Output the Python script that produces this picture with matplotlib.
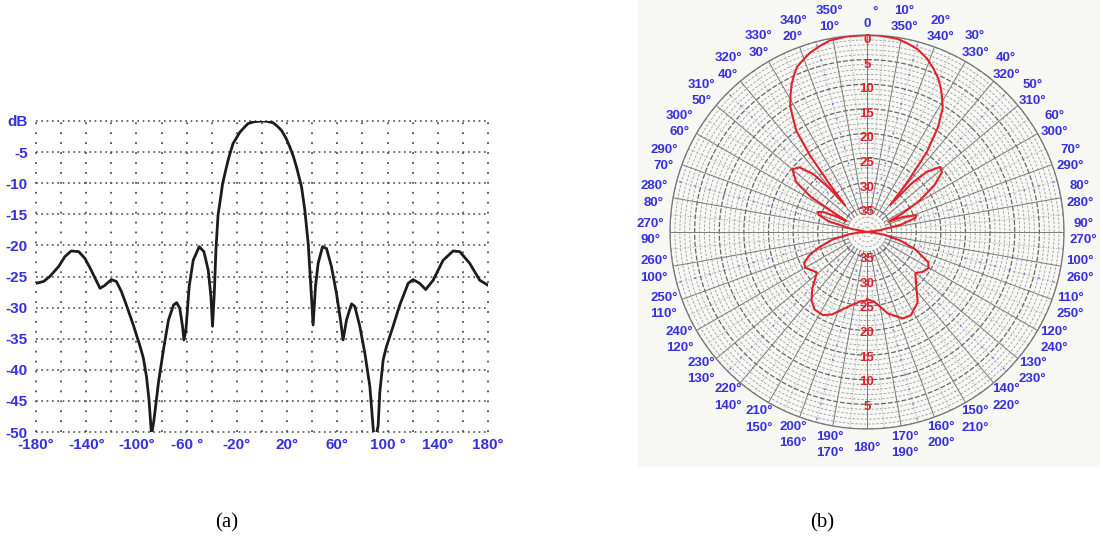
import matplotlib
matplotlib.use("Agg")
import matplotlib.pyplot as plt
import numpy as np
from matplotlib.patches import Rectangle
from matplotlib.transforms import offset_copy

# ---------------- data ----------------
angles_deg = [-180, -174, -169, -162, -157, -152, -146, -141, -136, -129, -125, -120,
              -116, -112, -108, -102.5, -97, -94.5, -92, -90, -88, -86, -82.5, -78.5,
              -74.5, -70.5, -68, -65.5, -63.3, -62.2, -60.6, -58, -54.8, -50, -46.3,
              -42.8, -40.7, -39.4, -38, -36.7, -35, -33, -31.4, -29, -27, -25, -23, -20,
              -17.6, -14, -11, -6, 0, 4, 9, 12,
              15.5, 19, 22.2, 25, 27.5, 29.5, 31.5, 34.1, 36.8, 38.9, 40.7, 42.6, 44.7, 48.2, 51.4,
              55.3, 59.3, 62.5, 64.6, 67.3, 71.3, 73.9, 77.9, 81.9, 85.9, 89, 91, 92.5,
              93.8, 96.5, 99.1, 104.4, 109.7, 116.4, 120.3, 125.6, 130.4, 136.3, 144.2,
              152.2, 157.5, 165.5, 173.4, 180]
gain_db = [-26.1, -25.8, -25.0, -23.4, -21.8, -20.9, -21.0, -22.1, -24.0, -26.9, -26.4,
           -25.5, -25.8, -27.4, -29.6, -32.8, -36.3, -38.1, -41.1, -44.8, -50.5, -48.0,
           -42.1, -36.8, -32.0, -29.6, -29.2, -30.1, -33.0, -35.2, -33.6, -26.6, -22.4,
           -20.2, -21.0, -24.0, -28.2, -33.0, -27.7, -20.7, -15.1, -12.4, -10.1, -8.0, -6.3,
           -4.9, -3.6, -2.6, -1.8, -1.0, -0.4, -0.1, 0.0, -0.05, -0.3, -0.8,
           -1.5, -2.7, -4.2, -5.7, -7.4, -9.0, -10.6, -14.3, -19.7, -26.6, -32.8,
           -26.6, -22.9, -20.2, -20.5, -23.4, -27.7, -32.0, -35.2, -32.0, -29.4, -29.8,
           -33.0, -37.3, -42.7, -50.5, -50.5, -49.0, -43.7, -38.4, -36.3, -33.0, -29.6,
           -26.1, -25.5, -26.1, -27.1, -25.6, -22.4, -20.9, -21.0, -22.9, -25.6, -26.4]

x_ticks = [-180, -140, -100, -60, -20, 20, 60, 100, 140, 180]
x_tick_labels = ["-180°", "-140°", "-100°", "-60 °", "-20°", "20°", "60°", "100 °", "140°", "180°"]
y_ticks = [0, -5, -10, -15, -20, -25, -30, -35, -40, -45, -50]
y_tick_labels = ["dB", "-5", "-10", "-15", "-20", "-25", "-30", "-35", "-40", "-45", "-50"]

polar_angle_ticks = list(range(0, 360, 10))
ring_labels_top = [0, 5, 10, 15, 20, 25, 30, 35]
ring_labels_bottom = [35, 30, 25, 20, 15, 10, 5]
polar_range_db = 40

BLUE = "#3530e0"
RED = "#e3222c"

W, H = 1103, 547
fig = plt.figure(figsize=(W / 100, H / 100), dpi=100)
fig.patches.append(Rectangle((638 / W, 1 - 467 / H), (1100 - 638) / W, 467 / H,
                             transform=fig.transFigure, facecolor="#f7f7f4",
                             edgecolor="none", zorder=-5))

# ---------------- (a) cartesian ----------------
ax1 = fig.add_axes([36 / W, 1 - 432 / H, 452 / W, 311 / H])
ax1.set_facecolor("none")
ax1.set_xlim(-180, 180)
ax1.set_ylim(-50, 0)
for x in range(-180, 181, 20):
    ax1.axvline(x, color="#505050", lw=1.3, ls=(0, (1, 4.5)), clip_on=False, zorder=1)
for y in range(-50, 1, 5):
    ax1.axhline(y, color="#505050", lw=1.2, ls=(0, (1, 2.2)), clip_on=False, zorder=1)
ax1.plot(angles_deg, gain_db, color="#1c1c1c", lw=2.0, solid_joinstyle="round", zorder=3)
for s in ax1.spines.values():
    s.set_visible(False)
ax1.set_xticks(x_ticks, x_tick_labels)
ax1.set_yticks(y_ticks, y_tick_labels)
ax1.tick_params(length=0, colors=BLUE, labelsize=11, pad=4)
ax1.tick_params(axis="y", pad=6)
for lab in ax1.get_xticklabels() + ax1.get_yticklabels():
    lab.set_fontweight("bold")
    lab.set_family("Liberation Sans")
    lab.set_color(BLUE)

# ---------------- (b) polar ----------------
cx, cy, R = 867, 232, 197
ax2 = fig.add_axes([(cx - R) / W, 1 - (cy + R) / H, 2 * R / W, 2 * R / H], projection="polar")
ax2.set_facecolor("none")
ax2.set_zorder(2)
ax2.set_theta_zero_location("N")
ax2.set_theta_direction(-1)
ax2.set_ylim(0, polar_range_db)
ax2.grid(False)
ax2.set_xticks([])
ax2.set_yticks([])
ax2.spines["polar"].set_color("#777777")
ax2.spines["polar"].set_linewidth(0.9)

full = np.linspace(0, 2 * np.pi, 721)
for r in range(1, polar_range_db + 1):
    if r % 5 == 0:
        ax2.plot(full, np.full_like(full, r), color="#666666", lw=0.9, ls=(0, (4, 1.5)), zorder=1)
    else:
        ax2.plot(full, np.full_like(full, r), color="#9a9a9a", lw=0.6, ls=(0, (3, 2)), zorder=1)
for a in range(0, 360, 5):
    th = np.deg2rad(a)
    if a % 10 == 0:
        ax2.plot([th, th], [4, polar_range_db], color="#7a7a7a", lw=0.7, zorder=1)
    else:
        ax2.plot([th, th], [12, polar_range_db], color="#a5a5a5", lw=0.5, ls=(0, (2, 2)), zorder=1)
for a in range(15, 360, 30):
    th = np.deg2rad(a)
    ax2.plot([th, th], [5, polar_range_db], color="#4a45f0", lw=1.1, ls=(0, (1, 9)),
             alpha=0.75, zorder=1)

theta = np.deg2rad(np.array(angles_deg, dtype=float))
radius = np.clip(polar_range_db + np.array(gain_db, dtype=float), 0, polar_range_db)
ax2.plot(theta, radius, color=RED, lw=1.5, zorder=4)

for d in ring_labels_top:
    ax2.text(0, polar_range_db - d - 1.0, str(d), color=RED, fontsize=9.5, fontweight="bold",
             family="Liberation Sans", ha="center", va="center", zorder=5)
for d in ring_labels_bottom:
    ax2.text(np.pi, polar_range_db - d + 0.5, str(d), color=RED, fontsize=9.5, fontweight="bold",
             family="Liberation Sans", ha="center", va="center", zorder=5)

r_lab = 43.9
up = offset_copy(ax2.transData, fig=fig, x=0, y=8.3, units="dots")
dn = offset_copy(ax2.transData, fig=fig, x=0, y=-8.3, units="dots")
deg0 = offset_copy(ax2.transData, fig=fig, x=8, y=4, units="dots")
for a in polar_angle_ticks:
    th = np.deg2rad(a)
    kw = dict(color=BLUE, fontsize=9.5, fontweight="bold", family="Liberation Sans",
              ha="center", va="center", clip_on=False)
    if a == 0:
        ax2.text(th, r_lab, "0", transform=dn, **kw)
        ax2.text(th, r_lab, "°", transform=deg0, **kw)
    elif a == 180:
        ax2.text(th, r_lab, "180°", **kw)
    else:
        ax2.text(th, r_lab, f"{a}°", transform=up, **kw)
        ax2.text(th, r_lab, f"{360 - a}°", transform=dn, **kw)

# ---------------- captions ----------------
fig.text(227 / W, 1 - 523 / H, "(a)", ha="center", va="center", fontsize=15, family="Liberation Serif")
fig.text(822 / W, 1 - 523 / H, "(b)", ha="center", va="center", fontsize=15, family="Liberation Serif")

fig.savefig("out.png", dpi=100)
